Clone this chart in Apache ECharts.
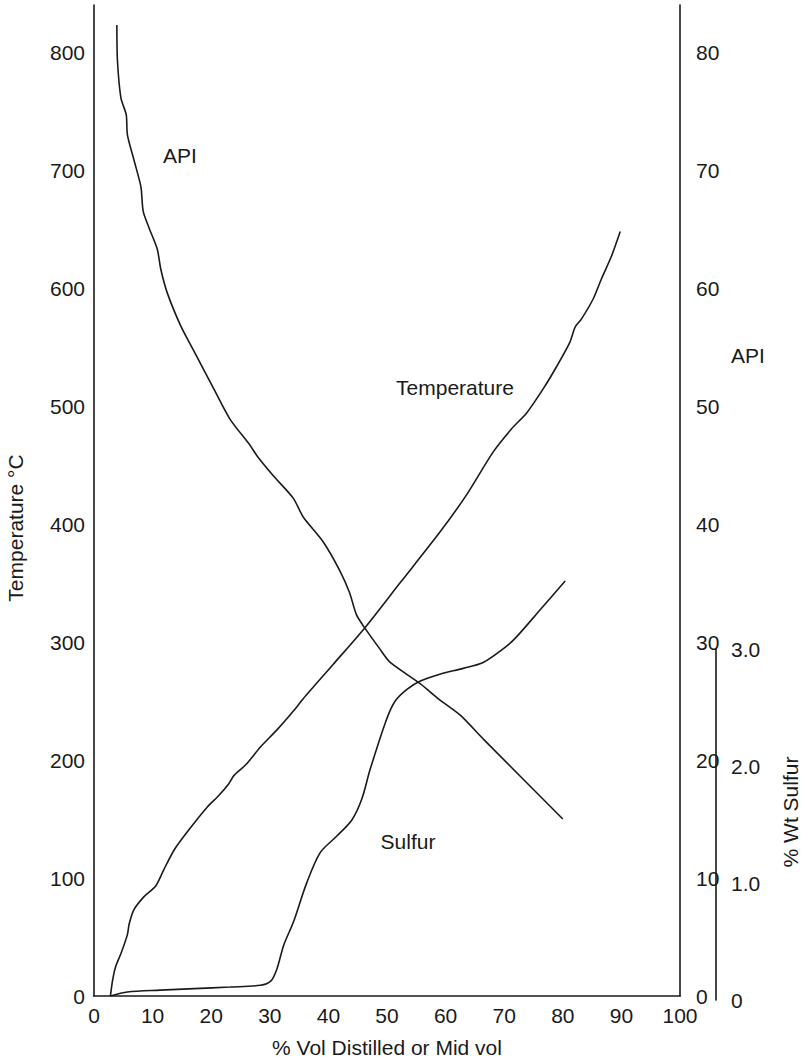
<!DOCTYPE html>
<html>
<head>
<meta charset="utf-8">
<script src="https://cdn.jsdelivr.net/npm/echarts@6/dist/echarts.min.js"></script>
<style>
html,body{margin:0;padding:0;background:#fff;}
#chart{width:801px;height:1063px;}
</style>
</head>
<body>
<div id="chart"></div>
<script>
// ---- data ----
const xTicks = [0,10,20,30,40,50,60,70,80,90,100];
const tempTicks = [0,100,200,300,400,500,600,700,800];
const apiTicks = [0,10,20,30,40,50,60,70,80];
const sulfurTicks = [0,1,2,3];

// Temperature (°C) vs % vol distilled
const tempX = [2.8,3.2,3.7,4.6,5.7,6.0,6.8,8.5,10.5,11.9,13.7,15.9,19.3,21.3,23.0,23.9,25.9,28.4,31.3,34.1,35.7,40.8,46.2,52.2,59.0,63.6,68.1,71.3,73.8,76.7,79.0,81.2,82.1,83.2,85.2,86.6,88.3,89.8];
const tempY = [0,14,25,36,52,61,73,84,93,107,124,139,160,170,180,187,196,211,226,242,252,281,312,350,393,425,461,481,494,515,534,554,567,574,591,608,627,648];

// API gravity vs mid vol
const apiX = [3.9,4.0,4.6,5.5,5.7,6.8,8.0,8.4,9.4,10.8,11.4,12.5,14.8,16.9,20.4,23.2,26.6,27.8,30.6,34.0,35.7,39.1,42.0,43.6,44.8,46.2,48.8,50.5,55.6,59.0,62.5,66.4,80.0];
const apiY = [82.3,79.3,76.1,74.7,73.0,70.9,68.6,66.5,65.1,63.3,61.6,59.6,56.8,54.8,51.5,48.9,46.7,45.8,44.1,42.2,40.6,38.5,36.0,34.2,32.3,31.2,29.4,28.3,26.5,25.1,23.8,21.8,15.0];

// % wt sulfur vs mid vol
const sulfurX = [2.8,5.7,11.3,17.1,23.2,28.4,30.2,31.2,32.4,34.0,36.3,38.6,41.4,44.0,45.7,47.1,49.9,51.4,53.4,55.6,59.0,63.0,66.4,70.4,72.1,76.1,80.4];
const sulfurY = [0,0.034,0.05,0.063,0.077,0.092,0.13,0.23,0.44,0.63,0.97,1.23,1.37,1.51,1.69,1.94,2.37,2.53,2.63,2.70,2.76,2.81,2.86,3.0,3.08,3.31,3.56];

const labels = {
  xName: '% Vol Distilled or Mid vol',
  tempName: 'Temperature °C',
  apiName: 'API',
  sulfurName: '% Wt Sulfur',
  apiCurve: 'API',
  tempCurve: 'Temperature',
  sulfurCurve: 'Sulfur'
};

const zip = (xs, ys) => xs.map((x, i) => [x, ys[i]]);

const FONT = '"Liberation Sans", Arial, Helvetica, sans-serif';
const INK = '#1a1a1a';
const FS = 21;
const lineStyle = {color: INK, width: 1.6};
const axisLine = {show: true, lineStyle: {color: INK, width: 1.6}};
const lab = {color: INK, fontFamily: FONT, fontSize: FS};

const chart = echarts.init(document.getElementById('chart'), null, {renderer: 'svg'});
chart.setOption({
  backgroundColor: '#fff',
  animation: false,
  grid: [
    {left: 94, right: 121, top: 5, bottom: 63, containLabel: false},
    {left: 716, width: 1, top: 649, bottom: 63, containLabel: false}
  ],
  xAxis: [
    {
      type: 'value', gridIndex: 0, min: xTicks[0], max: xTicks[xTicks.length-1], interval: 10,
      axisLine: axisLine, axisTick: {show: false}, splitLine: {show: false},
      axisLabel: Object.assign({margin: 9}, lab),
      name: labels.xName, nameLocation: 'middle', nameGap: 41,
      nameTextStyle: {color: INK, fontFamily: FONT, fontSize: FS}
    },
    {type: 'value', gridIndex: 1, min: 0, max: 1, show: false}
  ],
  yAxis: [
    {
      type: 'value', gridIndex: 0, position: 'left', min: 0, max: 840, interval: 100,
      axisLine: axisLine, axisTick: {show: false}, splitLine: {show: false},
      axisLabel: Object.assign({margin: 9, showMaxLabel: false}, lab)
    },
    {
      type: 'value', gridIndex: 0, position: 'right', min: 0, max: 84, interval: 10,
      axisLine: axisLine, axisTick: {show: false}, splitLine: {show: false},
      axisLabel: Object.assign({margin: 16, showMaxLabel: false}, lab)
    },
    {
      type: 'value', gridIndex: 0, position: 'right', min: 0, max: 8.5, show: false
    },
    {
      type: 'value', gridIndex: 1, position: 'right', min: 0, max: 3, interval: 1,
      axisLine: axisLine, axisTick: {show: false}, splitLine: {show: false},
      axisLabel: Object.assign({margin: 14, formatter: v => v === 0 ? '0' : v.toFixed(1)}, lab)
    }
  ],
  series: [
    {type: 'line', name: 'Temperature', xAxisIndex: 0, yAxisIndex: 0, data: zip(tempX, tempY),
     showSymbol: false, smooth: 0.25, lineStyle: lineStyle},
    {type: 'line', name: 'API', xAxisIndex: 0, yAxisIndex: 1, data: zip(apiX, apiY),
     showSymbol: false, smooth: 0.25, lineStyle: lineStyle},
    {type: 'line', name: 'Sulfur', xAxisIndex: 0, yAxisIndex: 2, data: zip(sulfurX, sulfurY),
     showSymbol: false, smooth: 0.3, lineStyle: lineStyle}
  ],
  graphic: [
    {type: 'text', x: 15, y: 528, rotation: Math.PI/2,
     style: {text: labels.tempName, fill: INK, font: FS + 'px ' + FONT, align: 'center', verticalAlign: 'middle'}},
    {type: 'text', x: 790, y: 812, rotation: Math.PI/2,
     style: {text: labels.sulfurName, fill: INK, font: FS + 'px ' + FONT, align: 'center', verticalAlign: 'middle'}},
    {type: 'text', x: 748, y: 355,
     style: {text: labels.apiName, fill: INK, font: FS + 'px ' + FONT, align: 'center', verticalAlign: 'middle'}},
    {type: 'text', x: 180, y: 155,
     style: {text: labels.apiCurve, fill: INK, font: FS + 'px ' + FONT, align: 'center', verticalAlign: 'middle'}},
    {type: 'text', x: 455, y: 387,
     style: {text: labels.tempCurve, fill: INK, font: FS + 'px ' + FONT, align: 'center', verticalAlign: 'middle'}},
    {type: 'text', x: 408, y: 841,
     style: {text: labels.sulfurCurve, fill: INK, font: FS + 'px ' + FONT, align: 'center', verticalAlign: 'middle'}}
  ]
});
</script>
</body>
</html>
